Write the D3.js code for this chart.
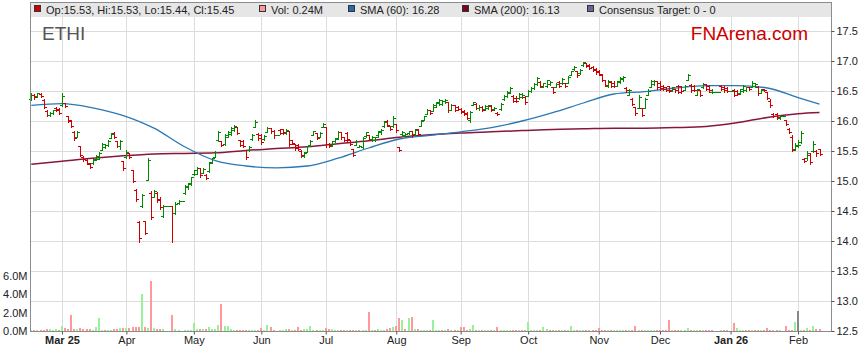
<!DOCTYPE html>
<html>
<head>
<meta charset="utf-8">
<script src="https://cdnjs.cloudflare.com/ajax/libs/d3/7.8.5/d3.min.js"></script>
<style>
  body { margin: 0; background: #fff; }
  svg { display: block; font-family: Arial, "Liberation Sans", sans-serif; }
</style>
</head>
<body>
<div id="chart"></div>
<script>
// trading calendar (weekdays, holidays drawn flat at previous close)
const firstDay = "2025-02-17", lastDay = "2026-02-11";
const monthLabels = ["Mar 25","Apr","May","Jun","Jul","Aug","Sep","Oct","Nov","Dec","Jan 26","Feb"];
const priceTicks = [12.5,13.0,13.5,14.0,14.5,15.0,15.5,16.0,16.5,17.0,17.5];
const volTicks = [0,2,4,6];

// [open, high, low, close] one row per weekday
const bars = [
  // Feb 25
  [16.37,16.46,16.35,16.44],[16.44,16.45,16.36,16.40],[16.41,16.47,16.40,16.46],[16.45,16.46,16.40,16.42],
  [16.35,16.37,16.22,16.24],[16.17,16.18,16.08,16.10],[16.10,16.15,16.09,16.13],[16.13,16.19,16.11,16.18],
  [16.22,16.23,16.16,16.19],[16.20,16.21,16.12,16.14],
  // Mar
  [16.27,16.47,16.25,16.42],[16.30,16.30,16.23,16.25],[16.08,16.09,15.98,16.01],[16.00,16.02,15.90,15.92],
  [15.82,15.83,15.69,15.71],[15.74,15.83,15.73,15.82],[15.58,15.59,15.41,15.44],[15.40,15.41,15.34,15.36],
  [15.35,15.36,15.28,15.30],[15.29,15.30,15.21,15.23],[15.30,15.37,15.29,15.35],[15.36,15.43,15.35,15.42],
  [15.37,15.48,15.36,15.47],[15.52,15.63,15.51,15.62],[15.56,15.62,15.55,15.60],[15.60,15.68,15.58,15.66],
  [15.72,15.80,15.71,15.79],[15.80,15.82,15.72,15.74],[15.66,15.67,15.57,15.59],[15.58,15.68,15.54,15.66],
  [15.33,15.34,15.19,15.21],
  // Apr
  [15.40,15.52,15.38,15.48],[15.46,15.47,15.38,15.40],[15.18,15.19,14.98,15.00],[14.85,14.86,14.67,14.70],
  [14.32,14.33,13.99,14.05],[14.58,14.79,14.56,14.76],[14.33,14.34,14.11,14.14],[15.02,15.38,15.01,15.35],
  [14.80,14.83,14.37,14.40],[14.74,14.85,14.73,14.83],[14.80,14.82,14.65,14.68],[14.70,14.73,14.53,14.57],
  [14.42,14.60,14.40,14.59],[14.59,14.59,14.59,14.59],[14.59,14.59,14.59,14.59],[14.58,14.58,13.99,14.47],
  [14.47,14.65,14.45,14.62],[14.63,14.68,14.62,14.66],[14.66,14.66,14.66,14.66],[14.80,14.93,14.79,14.91],
  [14.90,14.97,14.86,14.96],[14.95,15.07,14.93,15.06],
  // May
  [15.11,15.19,15.10,15.18],[15.12,15.23,15.11,15.21],[15.21,15.22,15.07,15.10],[15.14,15.22,15.13,15.20],
  [15.10,15.11,15.03,15.05],[15.16,15.32,15.15,15.30],[15.31,15.39,15.30,15.38],[15.40,15.50,15.40,15.49],
  [15.68,15.84,15.67,15.82],[15.66,15.67,15.58,15.60],[15.62,15.78,15.60,15.76],[15.74,15.84,15.73,15.82],
  [15.78,15.90,15.76,15.88],[15.85,15.94,15.84,15.92],[15.90,15.90,15.78,15.80],[15.68,15.69,15.58,15.60],
  [15.66,15.68,15.57,15.59],[15.52,15.52,15.37,15.40],[15.51,15.58,15.50,15.56],[15.70,15.78,15.69,15.77],
  [15.90,16.01,15.90,15.99],[15.79,15.80,15.69,15.72],
  // Jun
  [15.76,15.78,15.62,15.65],[15.70,15.77,15.69,15.75],[15.82,15.90,15.82,15.89],[15.88,15.88,15.80,15.84],
  [15.84,15.85,15.72,15.76],[15.76,15.76,15.76,15.76],[15.85,15.86,15.78,15.80],[15.86,15.87,15.79,15.81],
  [15.80,15.87,15.79,15.85],[15.84,15.84,15.59,15.62],[15.68,15.69,15.61,15.63],[15.61,15.61,15.52,15.55],
  [15.60,15.61,15.52,15.54],[15.50,15.51,15.40,15.43],[15.42,15.48,15.40,15.47],[15.48,15.59,15.48,15.58],
  [15.60,15.68,15.59,15.67],[15.76,15.84,15.76,15.83],[15.80,15.80,15.70,15.72],[15.74,15.82,15.74,15.80],
  [15.90,15.96,15.90,15.95],
  // Jul
  [15.90,15.90,15.56,15.62],[15.62,15.63,15.56,15.58],[15.60,15.67,15.58,15.66],[15.66,15.72,15.65,15.71],
  [15.70,15.83,15.70,15.82],[15.82,15.82,15.70,15.73],[15.73,15.73,15.66,15.68],[15.80,15.81,15.65,15.70],
  [15.68,15.68,15.60,15.62],[15.54,15.54,15.41,15.44],[15.60,15.68,15.60,15.66],[15.57,15.60,15.56,15.59],
  [15.56,15.73,15.55,15.71],[15.75,15.82,15.74,15.81],[15.76,15.76,15.68,15.70],[15.70,15.75,15.67,15.74],
  [15.69,15.74,15.66,15.73],[15.76,15.84,15.74,15.83],[15.82,15.86,15.78,15.85],[15.92,16.00,15.90,15.99],
  [16.00,16.01,15.91,15.93],[15.91,15.92,15.85,15.87],[15.92,16.08,15.90,16.05],
  // Aug
  [15.95,15.95,15.82,15.85],[15.57,15.57,15.50,15.52],[15.78,15.83,15.75,15.82],[15.76,15.80,15.73,15.79],
  [15.80,15.84,15.78,15.83],[15.83,15.83,15.73,15.76],[15.78,15.87,15.76,15.85],[15.87,15.87,15.76,15.79],
  [15.92,16.01,15.91,16.00],[16.01,16.09,16.01,16.08],[16.12,16.20,16.12,16.19],[16.19,16.19,16.12,16.14],
  [16.17,16.28,16.17,16.26],[16.24,16.32,16.23,16.31],[16.30,16.36,16.27,16.35],[16.29,16.35,16.27,16.34],
  [16.33,16.36,16.30,16.35],[16.32,16.32,16.15,16.18],[16.19,16.28,16.18,16.27],[16.26,16.27,16.16,16.18],
  [16.24,16.25,16.18,16.20],
  // Sep
  [16.20,16.21,16.13,16.15],[16.17,16.18,16.10,16.12],[16.14,16.15,16.03,16.05],[16.02,16.16,15.99,16.15],
  [16.27,16.32,16.26,16.31],[16.28,16.30,16.20,16.22],[16.22,16.26,16.18,16.24],[16.24,16.25,16.17,16.19],
  [16.20,16.26,16.19,16.25],[16.22,16.27,16.20,16.26],[16.25,16.26,16.17,16.19],[16.20,16.23,16.18,16.22],
  [16.14,16.15,16.10,16.12],[16.20,16.30,16.19,16.28],[16.36,16.43,16.35,16.42],[16.42,16.50,16.40,16.48],
  [16.47,16.56,16.46,16.55],[16.42,16.43,16.31,16.34],[16.38,16.41,16.31,16.33],[16.38,16.47,16.37,16.45],
  [16.40,16.46,16.39,16.44],[16.40,16.41,16.28,16.31],
  // Oct
  [16.42,16.51,16.42,16.50],[16.50,16.56,16.48,16.55],[16.55,16.63,16.54,16.62],[16.61,16.73,16.60,16.71],
  [16.65,16.66,16.57,16.59],[16.57,16.64,16.56,16.63],[16.58,16.69,16.56,16.68],[16.61,16.66,16.60,16.65],
  [16.56,16.57,16.47,16.49],[16.57,16.63,16.56,16.62],[16.65,16.66,16.57,16.59],[16.63,16.71,16.62,16.70],
  [16.63,16.63,16.56,16.58],[16.64,16.75,16.63,16.74],[16.77,16.84,16.76,16.83],[16.86,16.91,16.85,16.90],
  [16.83,16.84,16.74,16.76],[16.80,16.86,16.79,16.85],[16.93,16.99,16.92,16.98],[16.96,16.97,16.90,16.92],
  [16.93,16.95,16.86,16.88],[16.90,16.92,16.84,16.85],[16.86,16.88,16.79,16.81],
  // Nov
  [16.83,16.85,16.77,16.78],[16.76,16.78,16.66,16.68],[16.68,16.69,16.58,16.60],[16.58,16.68,16.57,16.66],
  [16.65,16.66,16.56,16.58],[16.64,16.66,16.57,16.59],[16.59,16.67,16.58,16.66],[16.65,16.74,16.64,16.72],
  [16.70,16.75,16.67,16.74],[16.55,16.56,16.49,16.51],[16.44,16.53,16.43,16.52],[16.37,16.38,16.27,16.29],
  [16.24,16.24,16.10,16.13],[16.22,16.43,16.21,16.40],[16.21,16.21,16.08,16.10],[16.21,16.38,16.21,16.36],
  [16.44,16.53,16.43,16.50],[16.57,16.68,16.57,16.66],[16.61,16.68,16.60,16.67],[16.66,16.67,16.54,16.57],
  // Dec
  [16.64,16.67,16.52,16.55],[16.58,16.60,16.52,16.54],[16.57,16.57,16.50,16.52],[16.58,16.58,16.49,16.50],
  [16.51,16.57,16.50,16.56],[16.54,16.54,16.49,16.51],[16.58,16.60,16.46,16.48],[16.58,16.58,16.47,16.50],
  [16.52,16.60,16.51,16.59],[16.69,16.79,16.68,16.76],[16.60,16.62,16.49,16.51],[16.59,16.60,16.50,16.52],
  [16.44,16.54,16.43,16.53],[16.51,16.52,16.42,16.44],[16.56,16.64,16.55,16.62],[16.61,16.62,16.51,16.53],
  [16.59,16.60,16.49,16.51],[16.48,16.54,16.47,16.49],[16.49,16.49,16.49,16.49],[16.49,16.49,16.49,16.49],
  [16.59,16.60,16.51,16.53],[16.57,16.58,16.49,16.51],[16.55,16.56,16.49,16.50],
  // Jan 26
  [16.50,16.50,16.50,16.50],[16.52,16.53,16.42,16.44],[16.50,16.51,16.43,16.45],[16.46,16.54,16.45,16.53],
  [16.50,16.60,16.49,16.58],[16.52,16.57,16.50,16.56],[16.57,16.57,16.52,16.53],[16.57,16.66,16.56,16.64],
  [16.58,16.63,16.57,16.62],[16.57,16.58,16.43,16.46],[16.47,16.53,16.46,16.52],[16.54,16.54,16.50,16.51],
  [16.48,16.49,16.36,16.38],[16.34,16.36,16.24,16.26],[16.12,16.13,16.06,16.08],[16.11,16.13,16.04,16.06],
  [16.05,16.10,16.04,16.09],[16.09,16.09,16.09,16.09],[16.01,16.02,15.93,15.95],[15.87,15.88,15.80,15.82],
  [15.74,15.77,15.50,15.52],[15.53,15.63,15.52,15.60],
  // Feb
  [15.58,15.68,15.56,15.60],[15.65,15.84,15.63,15.80],[15.37,15.38,15.32,15.34],[15.38,15.50,15.35,15.47],
  [15.44,15.46,15.28,15.31],[15.50,15.66,15.48,15.62],[15.50,15.52,15.42,15.47],[15.53,15.53,15.44,15.45]
];

// volume in millions, one per weekday (0 on holidays)
const volume = [
  0.10,0.15,0.10,0.12,0.15,0.25,0.20,0.15,0.20,0.15,
  0.50,0.30,0.25,1.70,0.25,0.25,0.30,0.25,0.20,0.25,0.15,0.40,1.40,0.15,0.15,0.12,0.15,0.25,0.20,0.30,0.35,
  0.30,0.35,0.45,0.45,0.45,4.00,0.45,0.30,5.50,0.30,0.25,0.20,0.25,0,0,1.70,0.20,0.15,0,0.15,0.15,0.15,
  0.85,0.20,0.25,0.25,0.25,0.45,0.25,0.20,0.70,2.90,0.60,0.60,0.20,0.15,0.15,0.15,0.15,0.15,0.15,0.15,0.15,0.15,
  0.30,0.15,0.70,0.40,0.15,0,0.15,0.15,0.20,0.25,0.15,0.15,0.40,0.15,0.20,0.20,0.60,0.15,0.15,0.15,0.15,
  0.30,0.25,0.25,0.15,0.15,0.12,0.12,0.12,0.12,0.12,0.15,0.10,0.12,0.15,2.10,0.15,0.10,0.20,0.10,0.15,0.20,0.30,0.40,
  0.55,1.40,1.15,0.25,1.40,1.50,0.20,0.20,0.15,0.15,0.15,0.15,1.15,0.15,0.15,0.15,0.15,0.20,0.15,0.15,0.10,
  0.40,0.40,0.15,0.20,0.70,0.15,0.15,0.15,0.12,0.12,0.12,0.12,0.40,0.12,0.12,0.12,0.12,0.12,0.12,0.12,0.12,0.12,
  0.95,0.12,0.12,0.12,0.12,0.40,0.20,0.12,0.12,0.12,0.12,0.12,0.12,0.12,0.50,0.12,0.12,0.12,0.12,0.12,0.12,0.12,0.12,
  0.35,0.15,0.12,0.12,0.12,0.12,0.12,0.12,0.12,0.12,0.12,0.12,0.50,0.15,0.12,0.15,0.12,0.12,0.12,0.12,
  0.12,0.12,0.12,1.15,0.12,0.12,0.12,0.12,0.12,0.30,0.12,0.12,0.12,0.12,0.12,0.12,0.12,0.12,0,0,0.12,0.12,0.12,
  0,0.85,0.30,0.12,0.12,0.12,0.12,0.12,0.12,0.12,0.12,0.12,0.30,0.15,0.15,0.12,0.12,0,0.60,0.15,0.15,1.00,
  2.15,0.15,0.15,0.30,0.15,0.50,0.20,0.24
];

// moving averages at every 10th weekday
const smaAt = [0,10,20,30,40,50,60,70,80,90,100,110,120,130,140,150,160,170,180,190,200,210,220,230,240,250,257];
const sma60 = [16.26,16.29,16.22,16.09,15.88,15.57,15.34,15.25,15.22,15.25,15.38,15.55,15.70,15.76,15.82,15.89,
               16.00,16.14,16.30,16.45,16.49,16.55,16.59,16.59,16.55,16.39,16.28];
const sma200 = [15.28,15.33,15.38,15.42,15.45,15.46,15.47,15.51,15.54,15.57,15.62,15.67,15.73,15.77,15.80,15.82,
                15.84,15.86,15.87,15.88,15.88,15.89,15.91,15.97,16.06,16.12,16.14];

const legendItems = [
  {text: "Op:15.53, Hi:15.53, Lo:15.44, Cl:15.45", color: "#cc0000", x: 34},
  {text: "Vol: 0.24M", color: "#ff9999", x: 259},
  {text: "SMA (60): 16.28", color: "#1f6db0", x: 348},
  {text: "SMA (200): 16.13", color: "#800020", x: 462},
  {text: "Consensus Target: 0 - 0", color: "#666699", x: 587}
];

const width = 859, height = 363;
const frameL = 30.5, frameR = 831.5, frameT = 2.5, legendBottom = 17, frameB = 331.5;

const svg = d3.select("#chart").append("svg")
  .attr("width", width)
  .attr("height", height);

const fmt = d3.timeFormat("%Y-%m-%d");
const days = d3.timeDay.range(new Date(firstDay + "T00:00"), d3.timeDay.offset(new Date(lastDay + "T00:00"), 1))
  .filter(d => d.getDay() > 0 && d.getDay() < 6);
const dayKeys = days.map(fmt);

const x = d3.scalePoint()
  .domain(dayKeys)
  .range([31.3, 819.5]);

const y = d3.scaleLinear()
  .domain([12.5, 17.5])
  .range([331, 31]);

const yVol = d3.scaleLinear()
  .domain([0, 6])
  .range([331, 276]);

// first weekday of each month after the start
const monthKeys = dayKeys.filter((k, i) => i > 0 && days[i].getMonth() !== days[i - 1].getMonth());

// legend band
svg.append("rect")
  .attr("x", frameL).attr("y", frameT)
  .attr("width", frameR - frameL).attr("height", legendBottom - frameT)
  .attr("fill", "#e6e6e6");

// grid
svg.append("g")
  .selectAll("line")
  .data(priceTicks)
  .join("line")
  .attr("x1", frameL).attr("x2", frameR)
  .attr("y1", d => Math.round(y(d)) + 0.5)
  .attr("y2", d => Math.round(y(d)) + 0.5)
  .attr("stroke", "#dcdcdc");

svg.append("g")
  .selectAll("line")
  .data(monthKeys)
  .join("line")
  .attr("x1", d => Math.round(x(d)) + 0.5)
  .attr("x2", d => Math.round(x(d)) + 0.5)
  .attr("y1", legendBottom).attr("y2", frameB)
  .attr("stroke", "#dcdcdc");

// volume bars, coloured against the previous close
svg.append("g")
  .attr("shape-rendering", "crispEdges")
  .selectAll("rect")
  .data(dayKeys.map((k, i) => ({k, i, v: volume[i]})).filter(d => d.v > 0))
  .join("rect")
  .attr("x", d => Math.round(x(d.k)) - 1)
  .attr("width", 2)
  .attr("y", d => yVol(d.v))
  .attr("height", d => 331 - yVol(d.v))
  .attr("fill", d => {
    const prev = d.i > 0 ? bars[d.i - 1][3] : bars[0][0];
    const c = bars[d.i][3];
    return c > prev ? "#99f099" : c < prev ? "#ff9999" : "#888888";
  });

// moving averages
const smaLine = d3.line()
  .curve(d3.curveMonotoneX)
  .x(d => x(dayKeys[d[0]]))
  .y(d => y(d[1]));

svg.append("path")
  .attr("d", smaLine(smaAt.map((k, j) => [k, sma200[j]])))
  .attr("fill", "none")
  .attr("stroke", "#86183c")
  .attr("stroke-width", 1.5);

svg.append("path")
  .attr("d", smaLine(smaAt.map((k, j) => [k, sma60[j]])))
  .attr("fill", "none")
  .attr("stroke", "#2a78b6")
  .attr("stroke-width", 1.3);

// OHLC bars
const ohlc = svg.append("g")
  .attr("shape-rendering", "crispEdges")
  .selectAll("g")
  .data(dayKeys.map((k, i) => ({k, o: bars[i][0], h: bars[i][1], l: bars[i][2], c: bars[i][3]})))
  .join("g")
  .attr("stroke", d => d.c < d.o ? "#d00000" : "#008a00");

ohlc.append("line")
  .attr("x1", d => Math.round(x(d.k)) + 0.5)
  .attr("x2", d => Math.round(x(d.k)) + 0.5)
  .attr("y1", d => Math.round(y(d.h)))
  .attr("y2", d => Math.round(y(d.l)) + 1);

ohlc.append("line")
  .attr("x1", d => Math.round(x(d.k)) - 2)
  .attr("x2", d => Math.round(x(d.k)) + 1)
  .attr("y1", d => Math.round(y(d.o)) + 0.5)
  .attr("y2", d => Math.round(y(d.o)) + 0.5);

ohlc.append("line")
  .attr("x1", d => Math.round(x(d.k)))
  .attr("x2", d => Math.round(x(d.k)) + 3)
  .attr("y1", d => Math.round(y(d.c)) + 0.5)
  .attr("y2", d => Math.round(y(d.c)) + 0.5);

// frame
svg.append("path")
  .attr("d", `M${frameL},${frameB}V${frameT}H${frameR}V${frameB}H${frameL}`)
  .attr("fill", "none")
  .attr("stroke", "#8c8c8c")
  .attr("shape-rendering", "crispEdges");

// right price axis
const yAxis = svg.append("g")
  .attr("transform", `translate(${frameR},0)`)
  .call(d3.axisRight(y).tickValues(priceTicks).tickFormat(d3.format(".1f")).tickSize(3).tickPadding(2));
yAxis.select(".domain").remove();
yAxis.selectAll("line").attr("stroke", "#555");
yAxis.selectAll("text").attr("font-size", 11).attr("fill", "#222")
  .attr("font-family", "Arial, 'Liberation Sans', sans-serif");

// left volume axis
const vAxis = svg.append("g")
  .attr("transform", `translate(${frameL},0)`)
  .call(d3.axisLeft(yVol).tickValues(volTicks).tickFormat(d => d.toFixed(1) + "M").tickSize(0).tickPadding(3));
vAxis.select(".domain").remove();
vAxis.selectAll("text").attr("font-size", 11).attr("fill", "#222")
  .attr("font-family", "Arial, 'Liberation Sans', sans-serif");

// month axis
const xAxis = svg.append("g")
  .attr("transform", `translate(0,${frameB})`)
  .call(d3.axisBottom(x).tickValues(monthKeys).tickFormat((d, i) => monthLabels[i]).tickSize(3).tickPadding(2));
xAxis.select(".domain").remove();
xAxis.selectAll("line").attr("stroke", "#555");
xAxis.selectAll("text")
  .attr("font-size", 11)
  .attr("fill", "#222")
  .attr("font-family", "Arial, 'Liberation Sans', sans-serif")
  .attr("font-weight", (d, i) => monthLabels[i].includes(" ") ? "bold" : "normal");

// legend
const leg = svg.append("g").selectAll("g")
  .data(legendItems)
  .join("g")
  .attr("transform", d => `translate(${d.x},0)`);
leg.append("rect")
  .attr("x", 0.5).attr("y", 5.5)
  .attr("width", 6).attr("height", 6)
  .attr("fill", d => d.color)
  .attr("stroke", "#333")
  .attr("shape-rendering", "crispEdges");
leg.append("text")
  .attr("x", 12).attr("y", 13.5)
  .attr("font-size", 11)
  .attr("fill", "#222")
  .text(d => d.text);

// titles
svg.append("text")
  .attr("x", 42).attr("y", 39.5)
  .attr("font-size", 19)
  .attr("fill", "#555")
  .text("ETHI");

svg.append("text")
  .attr("x", 808).attr("y", 39.5)
  .attr("text-anchor", "end")
  .attr("font-size", 19)
  .attr("fill", "#cc0000")
  .text("FNArena.com");
</script>
</body>
</html>
